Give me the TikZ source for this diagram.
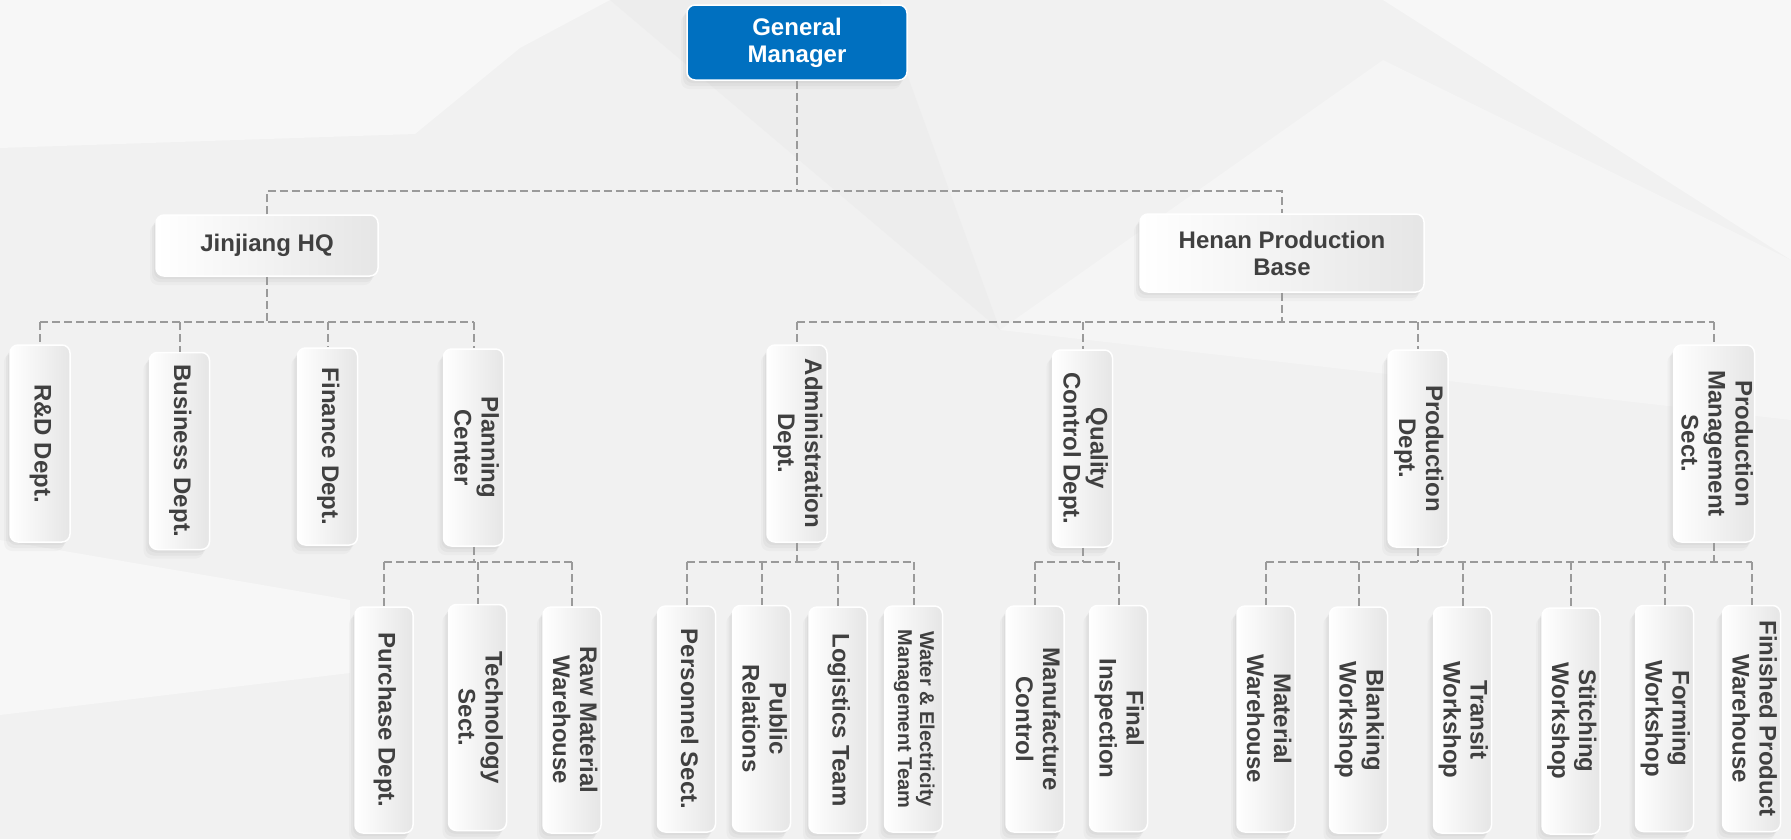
\documentclass[tikz,border=0pt]{standalone}
\usepackage{fontspec}
\setmainfont{Liberation Sans}
\usetikzlibrary{shadows,calc}
\definecolor{gmblue}{HTML}{0070C0}
\definecolor{linkgray}{HTML}{9A9A9A}
\definecolor{txtgray}{HTML}{404040}
\definecolor{bgbase}{HTML}{F1F1F1}
\definecolor{bglight}{HTML}{F7F7F7}
\definecolor{bgdark}{HTML}{EDEDED}
\newcommand{\vlabel}[1]{\rotatebox{-90}{\begin{tabular}{@{}c@{}}#1\end{tabular}}}

\begin{document}
\begin{tikzpicture}
[x=1pt,y=-1pt,
box/.style={draw=white,line width=1.5pt,rounded corners=8pt,left color=white,right color=black!10,
  text=txtgray,font=\fontsize{24}{27}\selectfont\bfseries,align=center,inner sep=0pt,
  drop shadow={opacity=.07,shadow xshift=-2pt,shadow yshift=-3pt},
  drop shadow={opacity=.07,shadow xshift=-4pt,shadow yshift=-6pt},
  drop shadow={opacity=.05,shadow xshift=-6pt,shadow yshift=-9pt}},
topbox/.style={box,left color=gmblue,right color=gmblue,text=white},
deptbox/.style={box,minimum width=60pt,minimum height=197pt},
secbox/.style={box,minimum width=58pt,minimum height=226pt},
link/.style={linkgray,line width=2pt,dash pattern=on 8pt off 4pt}]
\useasboundingbox (0,0) rectangle (1791,839);
% background
\fill[bgbase] (0,0) rectangle (1791,839);
\fill[bglight] (0,0) -- (610,0) -- (520,48) -- (415,134) -- (0,148) -- cycle;
\fill[bglight] (1383,0) -- (1791,0) -- (1791,260) -- cycle;
\fill[bglight] (0,540) -- (350,600) -- (350,673) -- (0,715) -- cycle;
\fill[bgdark] (610,0) -- (880,0) -- (1000,330) -- cycle;
\fill[bglight!60!bgbase] (1000,330) -- (1383,60) -- (1791,260) -- (1791,420) -- cycle;

% general manager
\node[topbox,minimum width=220pt,minimum height=75pt] (gm) at (797,42.5) {General\\Manager};

% sites
\node[box,minimum width=222pt,minimum height=61pt] (jj) at (267,245.5) {Jinjiang HQ};
\node[box,minimum width=284pt,minimum height=78pt] (hn) at (1282,253) {Henan Production\\Base};

% departments
\node[deptbox] (rd) at (40,443.5) {\vlabel{R\&D Dept.}};
\node[deptbox] (biz) at (179.5,451) {\vlabel{Business Dept.}};
\node[deptbox] (fin) at (327.5,446.5) {\vlabel{Finance Dept.}};
\node[deptbox] (plan) at (473.5,447.5) {\vlabel{Planning\\Center}};
\node[deptbox] (adm) at (797,443.5) {\vlabel{Administration\\Dept.}};
\node[deptbox] (qc) at (1082.5,448.5) {\vlabel{Quality\\Control Dept.}};
\node[deptbox] (prod) at (1418,448.5) {\vlabel{Production\\Dept.}};
\node[deptbox] (pms) at (1714,443.5) {\vlabel{Production\\Management\\Sect.}};

% sections
\node[secbox] (pur) at (384,720) {\vlabel{Purchase Dept.}};
\node[secbox] (tech) at (477.5,717.5) {\vlabel{Technology\\Sect.}};
\node[secbox] (raw) at (572,720) {\vlabel{Raw Material\\Warehouse}};
\node[secbox] (pers) at (686.5,719) {\vlabel{Personnel Sect.}};
\node[secbox] (pr) at (761.5,718.5) {\vlabel{Public\\Relations}};
\node[secbox] (log) at (838,720) {\vlabel{Logistics Team}};
\node[secbox,font=\fontsize{20}{22}\selectfont\bfseries] (water) at (913.5,719) {\vlabel{Water \& Electricity\\Management Team}};
\node[secbox] (mfc) at (1035,719) {\vlabel{Manufacture\\Control}};
\node[secbox] (insp) at (1118.5,718.5) {\vlabel{Final\\Inspection}};
\node[secbox] (mat) at (1266,719) {\vlabel{Material\\Warehouse}};
\node[secbox] (blank) at (1358.5,720) {\vlabel{Blanking\\Workshop}};
\node[secbox] (transit) at (1462.5,720) {\vlabel{Transit\\Workshop}};
\node[secbox] (stitch) at (1571,721) {\vlabel{Stitching\\Workshop}};
\node[secbox] (form) at (1664.5,718.5) {\vlabel{Forming\\Workshop}};
\node[secbox] (fpw) at (1751.5,718.5) {\vlabel{Finished Product\\Warehouse}};

% bus lines
\coordinate (bus0) at (0,191);
\coordinate (bus1) at (0,322);
\coordinate (bus2) at (0,562);

\draw[link] (gm.south) -- (gm.south |- bus0);
\draw[link] (jj.north) -- (jj.north |- bus0) -- (hn.north |- bus0) -- (hn.north);

\draw[link] (jj.south) -- (jj.south |- bus1);
\draw[link] (rd.north |- bus1) -- (plan.north |- bus1);
\foreach \n in {rd,biz,fin,plan} \draw[link] (\n.north |- bus1) -- (\n.north);
\draw[link] (hn.south) -- (hn.south |- bus1);
\draw[link] (adm.north |- bus1) -- (pms.north |- bus1);
\foreach \n in {adm,qc,prod,pms} \draw[link] (\n.north |- bus1) -- (\n.north);

\draw[link] (plan.south) -- (plan.south |- bus2);
\draw[link] (pur.north |- bus2) -- (raw.north |- bus2);
\foreach \n in {pur,tech,raw} \draw[link] (\n.north |- bus2) -- (\n.north);
\draw[link] (adm.south) -- (adm.south |- bus2);
\draw[link] (pers.north |- bus2) -- (water.north |- bus2);
\foreach \n in {pers,pr,log,water} \draw[link] (\n.north |- bus2) -- (\n.north);
\draw[link] (qc.south) -- (qc.south |- bus2);
\draw[link] (mfc.north |- bus2) -- (insp.north |- bus2);
\foreach \n in {mfc,insp} \draw[link] (\n.north |- bus2) -- (\n.north);
\draw[link] (prod.south) -- (prod.south |- bus2);
\draw[link] (pms.south) -- (pms.south |- bus2);
\draw[link] (mat.north |- bus2) -- (fpw.north |- bus2);
\foreach \n in {mat,blank,transit,stitch,form,fpw} \draw[link] (\n.north |- bus2) -- (\n.north);
\end{tikzpicture}
\end{document}
